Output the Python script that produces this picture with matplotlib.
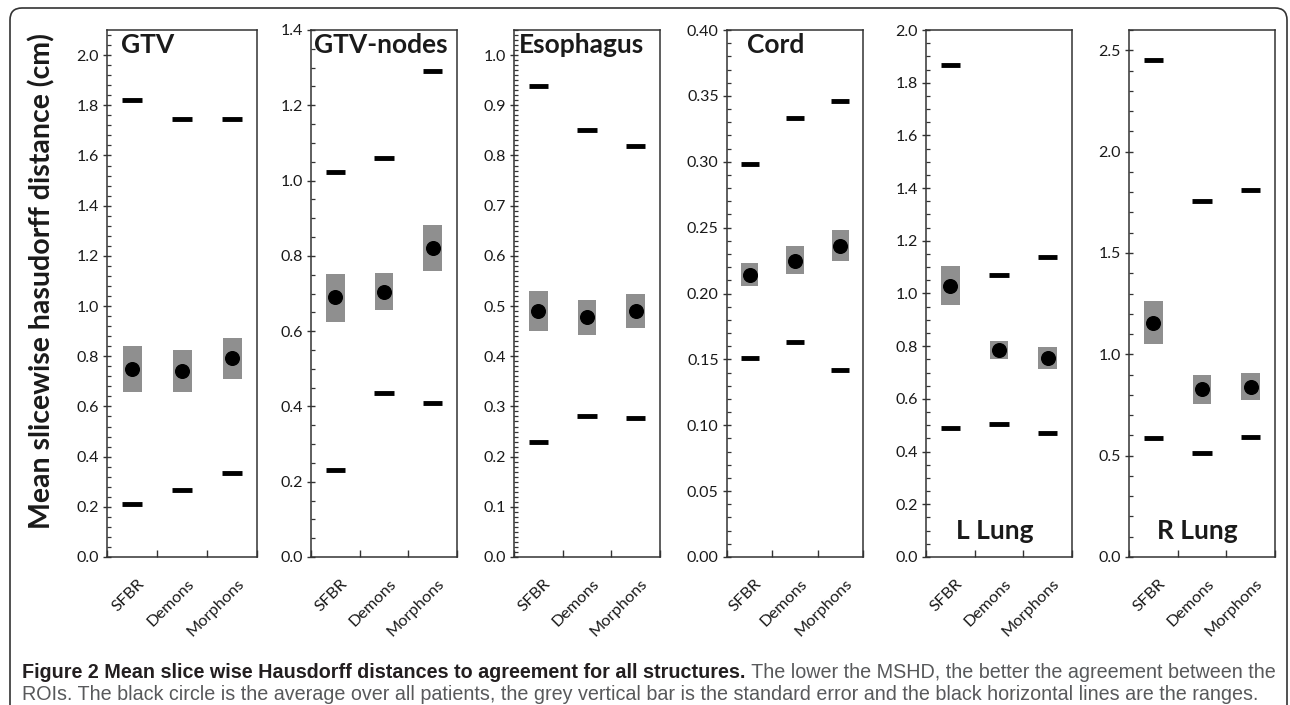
import matplotlib
matplotlib.use('Agg')
import matplotlib.pyplot as plt
from matplotlib.patches import FancyBboxPatch
from matplotlib.transforms import ScaledTranslation
from matplotlib.ticker import MultipleLocator, FormatStrFormatter, NullFormatter, FixedLocator
import numpy as np

# categories
methods = ['SFBR', 'Demons', 'Morphons']
structures = ['GTV', 'GTV-nodes', 'Esophagus', 'Cord', 'L Lung', 'R Lung']

# per structure values (SFBR, Demons, Morphons)
mean_vals = [[0.748, 0.740, 0.792],
             [0.690, 0.705, 0.820],
             [0.490, 0.478, 0.490],
             [0.214, 0.225, 0.236],
             [1.030, 0.786, 0.755],
             [1.153, 0.827, 0.837]]
se_low = [[0.656, 0.656, 0.708],
          [0.624, 0.656, 0.760],
          [0.450, 0.442, 0.456],
          [0.206, 0.215, 0.225],
          [0.956, 0.753, 0.712],
          [1.049, 0.754, 0.773]]
se_high = [[0.840, 0.824, 0.872],
           [0.752, 0.755, 0.883],
           [0.530, 0.512, 0.524],
           [0.223, 0.236, 0.248],
           [1.105, 0.820, 0.796],
           [1.262, 0.900, 0.907]]
range_low = [[0.212, 0.268, 0.336],
             [0.232, 0.437, 0.408],
             [0.230, 0.280, 0.276],
             [0.151, 0.163, 0.142],
             [0.490, 0.503, 0.469],
             [0.586, 0.512, 0.591]]
range_high = [[1.820, 1.745, 1.745],
              [1.024, 1.061, 1.290],
              [0.938, 0.850, 0.818],
              [0.298, 0.333, 0.346],
              [1.867, 1.070, 1.140],
              [2.453, 1.754, 1.810]]

# axis settings per structure
y_max = [2.1, 1.4, 1.05, 0.40, 2.0, 2.6]
y_major = [0.2, 0.2, 0.1, 0.05, 0.2, 0.5]
y_minor = [0.04, 0.05, 0.01, 0.01, 0.05, 0.1]
y_decimals = [1, 1, 1, 2, 1, 1]

caption_bold = 'Figure 2 Mean slice wise Hausdorff distances to agreement for all structures.'
caption_rest = ' The lower the MSHD, the better the agreement between the'
caption_line2 = ('ROIs. The black circle is the average over all patients, the grey vertical bar is '
                 'the standard error and the black horizontal lines are the ranges.')

W, H = 1290, 705
fig = plt.figure(figsize=(W / 100, H / 100), dpi=100)

# panel placement in pixels (left, right)
panel_x = [(107, 257), (311, 457), (514, 660), (727, 863), (926, 1072), (1129, 1275)]
top_px, bottom_px = 30, 557

tick_font = 'Lato'
spine_col = '#333333'
text_col = '#1a1a1a'

for i, name in enumerate(structures):
    x0, x1 = panel_x[i]
    ax = fig.add_axes([x0 / W, (H - bottom_px) / H, (x1 - x0) / W, (bottom_px - top_px) / H])
    xs = np.arange(len(methods)) + 0.5

    ax.bar(xs, np.array(se_high[i]) - np.array(se_low[i]), bottom=se_low[i],
           width=0.38, color='#8f8f8f', zorder=1)
    ax.hlines(range_high[i], xs - 0.2, xs + 0.2, color='black', lw=3.5, zorder=2)
    ax.hlines(range_low[i], xs - 0.2, xs + 0.2, color='black', lw=3.5, zorder=2)
    ax.plot(xs, mean_vals[i], 'o', color='black', ms=9.8, zorder=3)

    ax.set_xlim(0, 3)
    ax.set_ylim(0, y_max[i])

    ax.yaxis.set_major_locator(MultipleLocator(y_major[i]))
    ax.yaxis.set_minor_locator(MultipleLocator(y_minor[i]))
    ax.yaxis.set_major_formatter(FormatStrFormatter('%%.%df' % y_decimals[i]))
    ax.tick_params(axis='y', which='major', direction='inout', length=6, width=1,
                   color=spine_col, labelsize=11.5, pad=3)
    ax.tick_params(axis='y', which='minor', direction='in', length=3, width=0.9, color=spine_col)

    ax.xaxis.set_major_locator(FixedLocator([0, 1, 2, 3]))
    ax.xaxis.set_major_formatter(NullFormatter())
    ax.xaxis.set_minor_locator(FixedLocator(list(xs)))
    ax.set_xticklabels(methods, minor=True, rotation=45, ha='right', rotation_mode='anchor')
    ax.tick_params(axis='x', which='major', direction='in', length=5, width=1, color=spine_col)
    ax.tick_params(axis='x', which='minor', length=0, labelsize=11.8, pad=14)

    shift = ScaledTranslation(5 / 100, 0, fig.dpi_scale_trans)
    for lab in ax.get_xticklabels(minor=True):
        lab.set_transform(lab.get_transform() + shift)
    for lab in ax.get_yticklabels() + ax.get_xticklabels(minor=True):
        lab.set_fontfamily(tick_font)
        lab.set_color(text_col)

    for sp in ax.spines.values():
        sp.set_color(spine_col)
        sp.set_linewidth(1.1)

    if name in ('L Lung', 'R Lung'):
        ax.text(0.47, 0.035, name, transform=ax.transAxes, ha='center', va='baseline',
                fontsize=19, fontweight='bold', family=tick_font, color=text_col)
    else:
        title_x = {'GTV': 0.09, 'GTV-nodes': 0.02, 'Esophagus': 0.03, 'Cord': 0.15}[name]
        ax.text(title_x, 0.995, name, transform=ax.transAxes, ha='left', va='top',
                fontsize=19, fontweight='bold', family=tick_font, color=text_col)

fig.text(42 / W, 1 - 281 / H, 'Mean slicewise hasudorff distance (cm)', rotation=90,
         ha='center', va='center', fontsize=20.5, fontweight='bold', family=tick_font,
         color=text_col)

# caption, sized so the first line spans the same width as the reference
cap_font = 'Liberation Sans'
cap_size = 12
t1 = fig.text(22 / W, 1 - 678 / H, caption_bold, ha='left', va='baseline',
              fontsize=cap_size, fontweight='bold', family=cap_font, color='#231f20')
t2 = fig.text(0, 1 - 678 / H, caption_rest, ha='left', va='baseline',
              fontsize=cap_size, family=cap_font, color='#58595b')
t3 = fig.text(22 / W, 1 - 700 / H, caption_line2, ha='left', va='baseline',
              fontsize=cap_size, family=cap_font, color='#58595b')
fig.canvas.draw()
r = fig.canvas.get_renderer()
w_total = t1.get_window_extent(r).width + t2.get_window_extent(r).width
cap_size = cap_size * (1268 - 22) / w_total
for t in (t1, t2, t3):
    t.set_fontsize(cap_size)
fig.canvas.draw()
t2.set_position((t1.get_window_extent(r).x1 / W, 1 - 678 / H))

# rounded frame
frame = FancyBboxPatch((0.10, -0.5), 12.77, 6.97 + 0.5, boxstyle='round,pad=0,rounding_size=0.12',
                       transform=fig.dpi_scale_trans, fill=False, edgecolor='#333333', lw=1.2)
fig.patches.append(frame)

fig.savefig('out.png', dpi=100)
